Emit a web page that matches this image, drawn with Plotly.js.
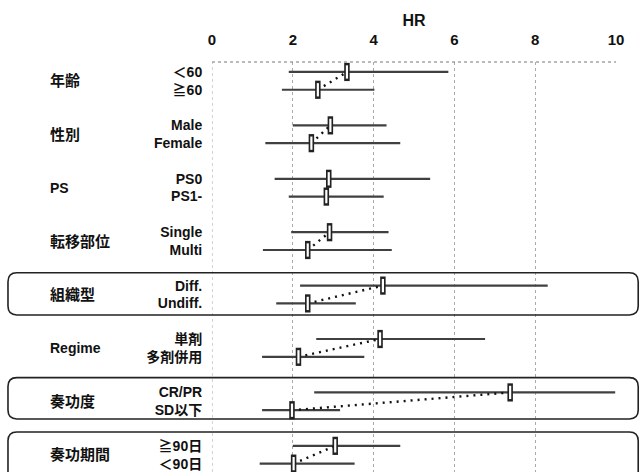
<!DOCTYPE html>
<html>
<head>
<meta charset="utf-8">
<script src="https://cdn.plot.ly/plotly-3.0.1.min.js"></script>
<style>html,body{margin:0;padding:0;background:#fff;}#chart{width:640px;height:472px;}</style>
</head>
<body>
<div id="chart"></div>
<script>
// ---- data ----
const groups = ['年齢', '性別', 'PS', '転移部位', '組織型', 'Regime', '奏功度', '奏功期間'];
const subgroups = ['＜60', '≧60', 'Male', 'Female', 'PS0', 'PS1-', 'Single', 'Multi',
                   'Diff.', 'Undiff.', '単剤', '多剤併用', 'CR/PR', 'SD以下', '≧90日', '＜90日'];
const hr = [3.34, 2.62, 2.93, 2.46, 2.89, 2.83, 2.91, 2.37, 4.23, 2.37, 4.16, 2.14, 7.38, 1.98, 3.05, 2.02];
const lo = [1.90, 1.73, 2.00, 1.32, 1.55, 1.90, 1.96, 1.26, 2.18, 1.59, 2.58, 1.24, 2.53, 1.24, 2.00, 1.18];
const hi = [5.85, 4.02, 4.32, 4.66, 5.40, 4.25, 4.37, 4.45, 8.31, 3.56, 6.76, 3.77, 9.98, 3.17, 4.66, 3.53];
const boxedGroups = [4, 6, 7];
const xTicks = [0, 2, 4, 6, 8, 10];

// ---- layout helpers ----
const rowPos = subgroups.map((s, i) => 3 * Math.floor(i / 2) + (i % 2));
const FONT = 'Liberation Sans, Arial, Noto Sans CJK JP, sans-serif';

// CI lines
const ciX = [], ciY = [];
subgroups.forEach((s, i) => { ciX.push(lo[i], hi[i], null); ciY.push(rowPos[i], rowPos[i], null); });
// dotted connections between paired estimates
const cX = [], cY = [];
groups.forEach((g, gi) => {
  const a = 2 * gi, b = 2 * gi + 1;
  cX.push(hr[b], hr[a], null); cY.push(rowPos[b], rowPos[a], null);
});

const traces = [
  {x: ciX, y: ciY, mode: 'lines', line: {color: '#404040', width: 2.2}, hoverinfo: 'skip', showlegend: false},
  {x: cX, y: cY, mode: 'lines', line: {color: '#111', width: 2.4, dash: '2px,5px'}, hoverinfo: 'skip', showlegend: false},
  {x: hr, y: rowPos, mode: 'markers', marker: {symbol: 'line-ns', size: 13, line: {color: '#222', width: 5.5}}, showlegend: false, hoverinfo: 'x'},
  {x: hr, y: rowPos, mode: 'markers', marker: {symbol: 'line-ns', size: 9.5, line: {color: '#fff', width: 2.2}}, showlegend: false, hoverinfo: 'skip'}
];

const annotations = groups.map((g, gi) => ({
  text: '<b>' + g + '</b>', xref: 'paper', yref: 'y', x: -0.406, y: 3 * gi + 0.5,
  xanchor: 'left', yanchor: 'middle', showarrow: false,
  font: {family: FONT, size: /^[A-Za-z]+$/.test(g) ? 14 : 15, color: '#111'}
}));

const shapes = [];
// top dotted border and zero line
shapes.push({type: 'line', xref: 'paper', yref: 'paper', x0: 0, x1: 1, y0: 1, y1: 1,
  line: {color: '#777', width: 1, dash: 'dot'}});
shapes.push({type: 'line', xref: 'x', yref: 'paper', x0: 0, x1: 0, y0: 0, y1: 1,
  line: {color: '#aaa', width: 1, dash: 'dot'}});
// rounded boxes
const boxSpan = {4: [-0.72, 1.65], 6: [-0.83, 1.49], 7: [-0.78, 3.2]};
boxedGroups.forEach(gi => {
  const top = 3 * gi + boxSpan[gi][0], bot = 3 * gi + boxSpan[gi][1];
  const x0 = -0.505, x1 = 1.055, rx = 0.022, ry = 0.5;
  const p = `M ${x0 + rx} ${top} L ${x1 - rx} ${top} Q ${x1} ${top} ${x1} ${top + ry} ` +
            `L ${x1} ${bot - ry} Q ${x1} ${bot} ${x1 - rx} ${bot} L ${x0 + rx} ${bot} ` +
            `Q ${x0} ${bot} ${x0} ${bot - ry} L ${x0} ${top + ry} Q ${x0} ${top} ${x0 + rx} ${top} Z`;
  shapes.push({type: 'path', xref: 'paper', yref: 'y', path: p, line: {color: '#222', width: 1.6}});
});

const layout = {
  width: 640, height: 472,
  margin: {l: 212, r: 24, t: 62, b: 0},
  paper_bgcolor: '#fff', plot_bgcolor: '#fff',
  font: {family: FONT, color: '#111'},
  xaxis: {
    side: 'top', range: [0, 10], tickvals: xTicks, ticktext: xTicks.map(v => '<b>' + v + '</b>'),
    tickfont: {size: 15, family: FONT, color: '#111'},
    showgrid: true, gridcolor: '#aaa', griddash: 'dot', gridwidth: 1,
    zeroline: false, showline: false,
    ticks: 'outside', ticklen: 10, tickcolor: 'rgba(0,0,0,0)',
    title: {text: '<b>HR</b>', font: {size: 16, family: FONT, color: '#111'}, standoff: 0},
    fixedrange: true
  },
  yaxis: {
    range: [22.47, -0.56], tickvals: rowPos, ticktext: subgroups.map(s => '<b>' + s + '</b>'),
    tickfont: {size: 14, family: FONT, color: '#111'},
    showgrid: false, zeroline: false, showline: false,
    ticks: 'outside', ticklen: 6, tickcolor: 'rgba(0,0,0,0)', fixedrange: true
  },
  annotations: annotations,
  shapes: shapes,
  showlegend: false
};

Plotly.newPlot('chart', traces, layout, {displayModeBar: false, staticPlot: true});
</script>
</body>
</html>
